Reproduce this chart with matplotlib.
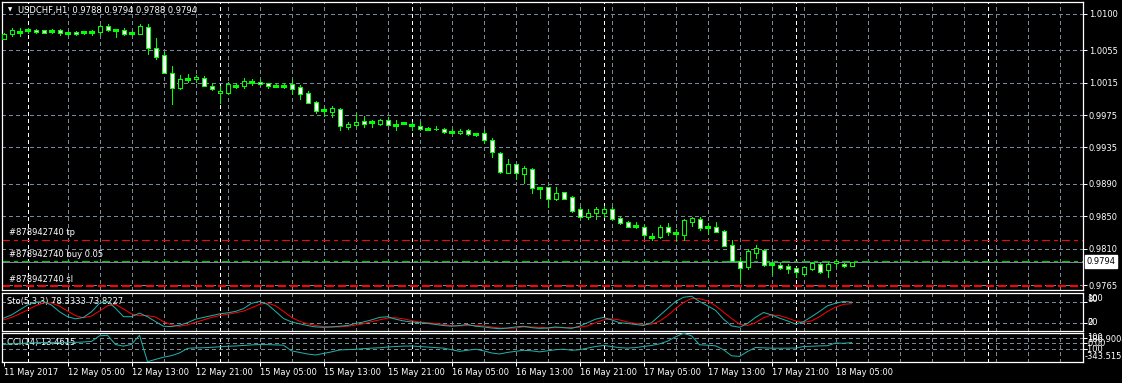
import matplotlib
matplotlib.use("Agg")
import matplotlib.pyplot as plt

W, H = 1122, 383

# USDCHF H1 bars, 11 May 2017 21:00 .. 18 May 2017 05:00
opens = [1.00695, 1.00749, 1.00783, 1.00799, 1.00799, 1.00799, 1.00794, 1.00799, 1.00761, 1.00778,
         1.00774, 1.00781, 1.00781, 1.00852, 1.00802, 1.00799, 1.00769, 1.00753, 1.00836, 1.00576,
         1.00493, 1.00267, 1.00082, 1.00193, 1.00193, 1.00205, 1.00110, 1.00020, 1.00027, 1.00114,
         1.00114, 1.00159, 1.00163, 1.00143, 1.00114, 1.00114, 1.00131, 1.00094, 1.00020, 0.99909,
         0.99810, 0.99792, 0.99822, 0.99607, 0.99628, 0.99677, 0.99665, 0.99640, 0.99690, 0.99632,
         0.99656, 0.99628, 0.99612, 0.99579, 0.99582, 0.99579, 0.99545, 0.99525, 0.99566, 0.99513,
         0.99525, 0.99443, 0.99278, 0.99038, 0.99142, 0.99019, 0.99080, 0.98846, 0.98858, 0.98717,
         0.98796, 0.98734, 0.98586, 0.98495, 0.98544, 0.98544, 0.98586, 0.98475, 0.98429, 0.98383,
         0.98364, 0.98247, 0.98247, 0.98364, 0.98297, 0.98268, 0.98433, 0.98462, 0.98364, 0.98364,
         0.98322, 0.98145, 0.97953, 0.97877, 0.98050, 0.98087, 0.97910, 0.97898, 0.97885, 0.97867,
         0.97790, 0.97848, 0.97910, 0.97832, 0.97922, 0.97910, 0.97880]
highs = [1.00762, 1.00823, 1.00823, 1.00827, 1.00811, 1.00806, 1.00818, 1.00811, 1.00781, 1.00786,
         1.00794, 1.00802, 1.00864, 1.00873, 1.00806, 1.00823, 1.00794, 1.00873, 1.00873, 1.00707,
         1.00534, 1.00357, 1.00242, 1.00258, 1.00246, 1.00234, 1.00143, 1.00110, 1.00163, 1.00143,
         1.00209, 1.00193, 1.00193, 1.00143, 1.00135, 1.00143, 1.00193, 1.00119, 1.00052, 0.99921,
         0.99854, 0.99863, 0.99842, 0.99661, 0.99773, 0.99739, 0.99690, 0.99706, 0.99731, 0.99686,
         0.99669, 0.99669, 0.99661, 0.99600, 0.99616, 0.99587, 0.99575, 0.99575, 0.99575, 0.99529,
         0.99566, 0.99464, 0.99294, 0.99204, 0.99146, 0.99121, 0.99093, 0.98865, 0.98865, 0.98865,
         0.98800, 0.98750, 0.98611, 0.98586, 0.98611, 0.98627, 0.98611, 0.98487, 0.98445, 0.98425,
         0.98392, 0.98289, 0.98392, 0.98413, 0.98339, 0.98470, 0.98495, 0.98495, 0.98420, 0.98429,
         0.98330, 0.98207, 0.98000, 0.98092, 0.98145, 0.98095, 0.97947, 0.97919, 0.97906, 0.97877,
         0.97877, 0.97929, 0.97929, 0.97935, 0.97959, 0.97926, 0.97940]
lows = [1.00687, 1.00728, 1.00728, 1.00769, 1.00761, 1.00761, 1.00769, 1.00744, 1.00740, 1.00737,
        1.00753, 1.00744, 1.00749, 1.00790, 1.00719, 1.00737, 1.00737, 1.00749, 1.00509, 1.00448,
        1.00267, 0.99884, 1.00069, 1.00163, 1.00163, 1.00110, 1.00061, 0.99904, 1.00007, 1.00089,
        1.00082, 1.00126, 1.00122, 1.00089, 1.00094, 1.00089, 1.00007, 0.99953, 0.99900, 0.99780,
        0.99739, 0.99731, 0.99566, 0.99575, 0.99600, 0.99600, 0.99607, 0.99632, 0.99624, 0.99566,
        0.99637, 0.99566, 0.99570, 0.99566, 0.99566, 0.99533, 0.99533, 0.99517, 0.99508, 0.99492,
        0.99409, 0.99229, 0.99038, 0.99038, 0.98961, 0.98915, 0.98791, 0.98729, 0.98618, 0.98701,
        0.98713, 0.98556, 0.98479, 0.98466, 0.98466, 0.98495, 0.98454, 0.98404, 0.98364, 0.98359,
        0.98247, 0.98207, 0.98228, 0.98268, 0.98207, 0.98207, 0.98380, 0.98330, 0.98281, 0.98306,
        0.98132, 0.97947, 0.97712, 0.97845, 0.97980, 0.97885, 0.97786, 0.97848, 0.97802, 0.97753,
        0.97774, 0.97836, 0.97799, 0.97753, 0.97877, 0.97869, 0.97880]
closes = [1.00753, 1.00802, 1.00783, 1.00799, 1.00774, 1.00769, 1.00794, 1.00761, 1.00761, 1.00753,
          1.00774, 1.00781, 1.00848, 1.00799, 1.00802, 1.00757, 1.00769, 1.00852, 1.00583, 1.00472,
          1.00274, 1.00082, 1.00193, 1.00193, 1.00221, 1.00114, 1.00077, 1.00048, 1.00135, 1.00114,
          1.00168, 1.00159, 1.00131, 1.00114, 1.00114, 1.00114, 1.00077, 1.00011, 0.99904, 0.99805,
          0.99810, 0.99842, 0.99619, 0.99644, 0.99669, 0.99640, 0.99665, 0.99690, 0.99628, 0.99632,
          0.99656, 0.99628, 0.99582, 0.99579, 0.99575, 0.99545, 0.99545, 0.99558, 0.99521, 0.99513,
          0.99443, 0.99291, 0.99051, 0.99142, 0.99031, 0.99093, 0.98846, 0.98846, 0.98710, 0.98791,
          0.98717, 0.98569, 0.98487, 0.98537, 0.98586, 0.98586, 0.98470, 0.98420, 0.98371, 0.98383,
          0.98272, 0.98247, 0.98364, 0.98309, 0.98297, 0.98454, 0.98479, 0.98359, 0.98364, 0.98309,
          0.98136, 0.97951, 0.97867, 0.98067, 0.98104, 0.97894, 0.97910, 0.97864, 0.97852, 0.97811,
          0.97873, 0.97919, 0.97817, 0.97916, 0.97943, 0.97882, 0.97940]

sto_main = [33, 42, 56, 70, 78, 80, 70, 51, 37, 31, 35, 51, 75, 80, 61, 37, 37, 47,
            37, 23, 10, 9, 13, 20, 30, 35, 40, 45, 48, 52, 60, 75, 80,
            72, 52, 32, 22, 17, 12, 8, 7, 8, 10, 12, 18, 22, 28, 35, 37, 30,
            25, 22, 20, 18, 15, 12, 10, 12, 15, 10, 8, 5, 3, 5, 8, 10, 6, 4, 5, 8,
            6, 4, 10, 20, 30, 35, 28, 20, 18, 15, 12, 20, 40, 60, 80, 92, 95,
            80, 68, 55, 30, 11, 7, 18, 35, 49, 42, 33, 25, 16, 23, 37, 52, 68, 75, 80, 78.3333]
sto_signal = [28, 35, 45, 56, 68, 76, 76, 67, 53, 40, 34, 39, 53, 68, 72, 59, 45, 40,
              40, 36, 23, 14, 10, 14, 21, 28, 35, 40, 44, 48, 53, 62, 72,
              76, 68, 52, 35, 24, 17, 12, 9, 8, 8, 10, 13, 17, 23, 28, 33, 34,
              31, 26, 22, 20, 18, 15, 12, 11, 12, 12, 11, 8, 5, 4, 5, 8, 8, 7, 5, 6,
              6, 6, 7, 11, 20, 28, 31, 28, 22, 18, 15, 16, 24, 40, 60, 77, 89,
              88, 82, 68, 50, 32, 16, 12, 20, 34, 42, 40, 33, 25, 21, 25, 37, 52, 64, 72, 73.8227]
cci = [-23, -10, -5, 6, 10, 15, 18, 18, 18, 18, 25, 35, 140, 150, -23, -53, -20, 150,
       -343.5, -300, -260, -230, -180, -94, -85, -83, -75, -65, -55, -50, -40, -30, -23, -25, -30, -35,
       -141, -170, -200, -218, -190, -160, -124, -118, -112, -100, -90, -83, -70, -60,
       -53, -50, -60, -70, -80, -90, -120, -150, -130, -110, -140, -180, -200, -170, -150, -130,
       -140, -160, -140, -120, -110, -130, -120, -90, -60, -40, -60, -80, -90, -80, -60, -40, -10,
       40, 120, 186.9, 140,
       -28, -35, -47, -120, -233, -245, -152, -78, -85, -90, -92, -90, -88, -60, -55, -48, -45, 6, 0, 13.4615]

price_ticks = [1.0100, 1.0055, 1.0015, 0.9975, 0.9935, 0.9890, 0.9850, 0.9810, 0.9765]
time_labels = ["11 May 2017", "12 May 05:00", "12 May 13:00", "12 May 21:00", "15 May 05:00",
               "15 May 13:00", "15 May 21:00", "16 May 05:00", "16 May 13:00", "16 May 21:00",
               "17 May 05:00", "17 May 13:00", "17 May 21:00", "18 May 05:00"]
label_bars = list(range(0, 105, 8))
grid_bars = list(range(8, 133, 4))
day_starts = [3, 27, 51, 75, 99, 123]

bid = 0.9794
order_open = 0.97953
order_tp = 0.98207
order_sl = 0.97638

GREEN = "#00ff00"
GRID = "#778899"
SEA = "#20b2aa"
plt.rcParams["font.family"] = "DejaVu Sans"
plt.rcParams["font.size"] = 6

fig = plt.figure(figsize=(W / 100, H / 100), dpi=100, facecolor="black")


def px_axes(x0, y0, x1, y1):
    a = fig.add_axes([x0 / W, 1 - y1 / H, (x1 - x0) / W, (y1 - y0) / H])
    a.set_facecolor("black")
    for s in a.spines.values():
        s.set_color("white")
        s.set_linewidth(0.9)
    a.set_xlim(-0.19, 134.87)
    a.tick_params(colors="white", labelcolor="white", width=0.72, length=3, labelsize=6, pad=1.5)
    a.yaxis.tick_right()
    a.set_xticks([])
    for b in grid_bars:
        a.axvline(b, color=GRID, lw=0.72, ls=(0, (4, 3)), antialiased=False, zorder=1)
    for b in day_starts:
        a.axvline(b, color="white", lw=0.72, ls=(0, (4, 3)), antialiased=False, zorder=1)
    return a


ax = px_axes(2, 2, 1082.5, 290)
ax_sto = px_axes(2, 292.7, 1082.5, 331)
ax_cci = px_axes(2, 333.3, 1082.5, 361.7)

# ---- main price panel
ax.set_ylim(0.97589, 1.01148)
ax.set_yticks(price_ticks)
ax.set_yticklabels([f"{p:.4f}" for p in price_ticks])
for p in price_ticks:
    ax.axhline(p, color=GRID, lw=0.72, ls=(0, (4, 3)), antialiased=False, zorder=1)

xs = list(range(len(opens)))
ax.vlines(xs, lows, highs, color=GREEN, lw=0.72, antialiased=False, zorder=3)
for i in xs:
    o, c = opens[i], closes[i]
    if abs(c - o) < 0.00003:
        ax.hlines(o, i - 0.3, i + 0.3, color=GREEN, lw=0.9, antialiased=False, zorder=4)
    else:
        ax.bar(i, abs(c - o), bottom=min(o, c), width=0.5,
               color="black" if c > o else "white", edgecolor=GREEN,
               linewidth=0.72, antialiased=False, zorder=4)

ax.axhline(order_tp, color="red", lw=0.72, ls=(0, (8, 5, 3, 5)), antialiased=False, zorder=2)
ax.axhline(order_open, color="#00c800", lw=0.72, ls=(0, (8, 5, 3, 5)), antialiased=False, zorder=2)
ax.axhline(order_sl, color="red", lw=1.4, ls=(0, (4, 2.5)), antialiased=False, zorder=2)
ax.axhline(bid, color=GRID, lw=0.72, antialiased=False, zorder=2)

ytr = ax.get_yaxis_transform()
for txt, lvl, dy in [("#878942740 tp", order_tp, 3), ("#878942740 buy 0.05", order_open, 2),
                     ("#878942740 sl", order_sl, 2)]:
    ax.annotate(txt, xy=(0.0065, lvl), xycoords=ytr, xytext=(0, dy), textcoords="offset pixels",
                color="white", fontsize=6, va="bottom", ha="left", zorder=5)
ax.annotate(f"{bid:.4f}", xy=(1.0, bid), xycoords=ytr, xytext=(4, 0), textcoords="offset pixels",
            color="black", fontsize=6, va="center", ha="left", annotation_clip=False,
            bbox=dict(boxstyle="square,pad=0.2", fc="white", ec="white"))

fig.text(8 / W, 1 - 10 / H, "\u25bc", color="white", fontsize=4, va="center", ha="left")
fig.text(18 / W, 1 - 11 / H, "USDCHF,H1  0.9788 0.9794 0.9788 0.9794", color="white",
         fontsize=6, va="center", ha="left")

# ---- stochastic
ax_sto.set_ylim(-3.5, 105)
ax_sto.set_yticks([80, 20])
ax_sto.set_yticklabels([])
for lv in [80, 20]:
    ax_sto.axhline(lv, color=GRID, lw=0.72, ls=(0, (4, 3)), antialiased=False, zorder=1)
ax_sto.plot(xs, sto_signal, color="red", lw=0.72, zorder=3)
ax_sto.plot(xs, sto_main, color=SEA, lw=0.72, zorder=3)
ax_sto.text(0.0046, 1 - 9 / 38.3, "Sto(5,3,3) 78.3333 73.8227", transform=ax_sto.transAxes,
            color="white", fontsize=6, va="center", ha="left", zorder=2)
# MT4 prints the panel max/min and level labels on top of one another
for t, yy in [("100", 298.5), ("80", 299.5), ("20", 322.5), ("0", 322.5)]:
    fig.text(1087 / W, 1 - yy / H, t, color="white", fontsize=6, va="center", ha="left")

# ---- CCI
ax_cci.set_ylim(-343.515, 186.9004)
ax_cci.set_yticks([100, 0, -100])
ax_cci.set_yticklabels([])
for lv in [100, 0, -100]:
    ax_cci.axhline(lv, color=GRID, lw=0.72, ls=(0, (4, 3)), antialiased=False, zorder=1)
ax_cci.plot(xs, cci, color=SEA, lw=0.72, zorder=3)
ax_cci.text(0.0046, 1 - 9.4 / 28.4, "CCI(14) 13.4615", transform=ax_cci.transAxes,
            color="white", fontsize=6, va="center", ha="left", zorder=2)
for t, xx, yy in [("186.9004", 1087, 340), ("100", 1087, 337), ("0.00", 1087, 344),
                  ("-100", 1085, 349.5), ("-343.515", 1085, 356.5)]:
    fig.text(xx / W, 1 - yy / H, t, color="white", fontsize=6, va="center", ha="left")

ax_cci.set_xticks(label_bars)
ax_cci.set_xticklabels(time_labels)
for lbl in ax_cci.get_xticklabels():
    lbl.set_ha("left")
ax_cci.tick_params(axis="x", pad=1.5)

fig.savefig("out.png", dpi=100, facecolor="black")
